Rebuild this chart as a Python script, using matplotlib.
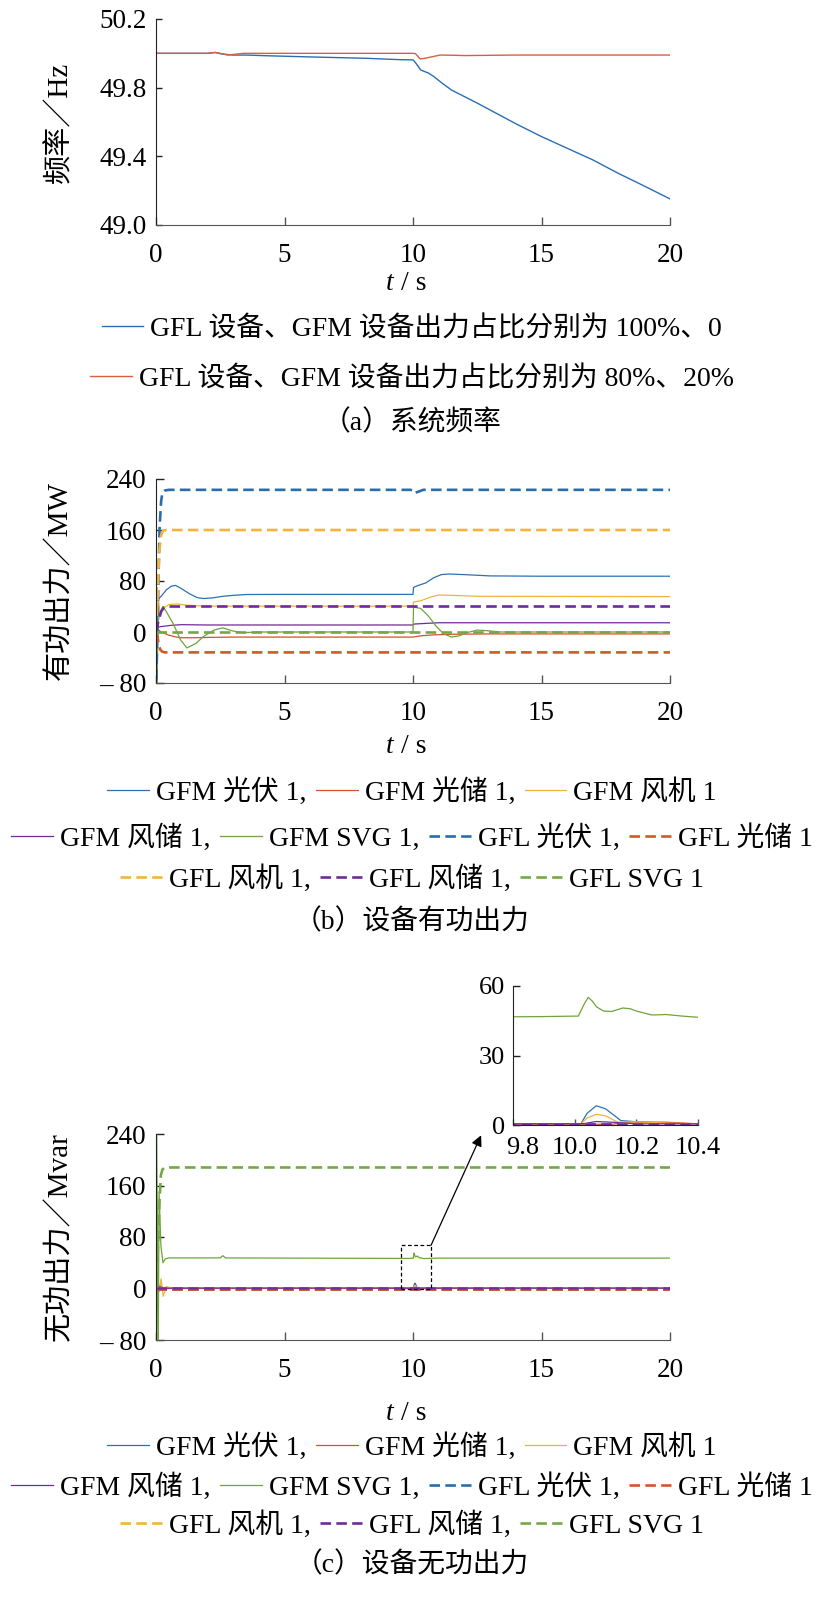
import matplotlib
matplotlib.use('Agg')
import matplotlib.pyplot as plt
from matplotlib.patches import Rectangle
from matplotlib.transforms import ScaledTranslation

plt.rcParams['font.family'] = ['Liberation Serif', 'Noto Sans CJK SC']
plt.rcParams['axes.unicode_minus'] = False

# ---- (a) system frequency ----
freq_t_100 = [0, 2.0, 2.3, 2.6, 3.0, 3.5, 4.3, 6, 8.2, 9.5, 10.0, 10.1, 10.3, 10.6, 10.8, 11.1, 11.5, 12,
              12.5, 13, 14, 15, 16, 17, 18, 19, 20]
freq_100 = [50.0, 50.0, 50.005, 49.995, 49.99, 49.99, 49.986, 49.979, 49.971, 49.963, 49.962, 49.945, 49.903,
            49.885, 49.866, 49.83, 49.786, 49.748, 49.71, 49.67, 49.59, 49.515, 49.447, 49.379, 49.30, 49.227, 49.152]
freq_t_80 = [0, 2.0, 2.3, 2.6, 2.8, 3.4, 4, 10.0, 10.1, 10.28, 10.5, 10.8, 11.06, 11.5, 12, 14, 20]
freq_80 = [50.0, 50.0, 50.005, 49.997, 49.99, 50.0, 50.0, 50.0, 49.998, 49.967, 49.972, 49.982, 49.99,
           49.989, 49.987, 49.99, 49.99]

# ---- (b) active power, MW ----
p_t_gfm_pv = [0, 0.02, 0.05, 0.1, 0.2, 0.4, 0.6, 0.76, 0.95, 1.3, 1.6, 1.85, 2.2, 2.6, 3.0, 3.5, 5, 10.0, 10.02,
              10.2, 10.5, 10.8, 11.1, 11.4, 12, 13, 15, 20]
p_gfm_pv = [0, -120, 20, 52, 56, 66, 72, 73, 69, 60, 54, 52.5, 53.5, 56, 57.5, 58.8, 59, 59, 70, 73, 77, 85,
            90, 91, 90, 88, 87.5, 87.5]
p_t_gfm_ps = [0, 0.05, 0.2, 0.5, 0.8, 1.0, 1.5, 2, 3, 10.0, 10.3, 10.8, 11.5, 13, 20]
p_gfm_ps = [0, 5, 0, -5, -8, -9, -9, -8.5, -8, -8, -6, -4.5, -3.5, -3, -3]
p_t_gfm_wt = [0, 0.05, 0.15, 0.3, 0.5, 0.8, 1.2, 2, 10.0, 10.02, 10.3, 10.7, 11.0, 11.5, 12.5, 20]
p_gfm_wt = [0, 70, 30, 38, 43, 44, 42, 40.5, 40.5, 47, 49, 55, 58, 57.5, 56, 55.5]
p_t_gfm_ws = [0, 0.1, 0.3, 0.6, 1.0, 2, 10.0, 10.05, 10.5, 11.0, 12, 20]
p_gfm_ws = [5, 8, 9, 10.5, 11.5, 11, 11, 12.5, 13.5, 14.5, 14.5, 14.5]
p_t_gfm_svg = [0, 0.03, 0.08, 0.15, 0.27, 0.4, 0.67, 0.95, 1.2, 1.55, 1.85, 2.26, 2.6, 3.0, 3.4, 4.0, 10.0,
               10.02, 10.3, 10.6, 10.9, 11.2, 11.5, 11.8, 12.1, 12.5, 12.9, 13.4, 20]
p_gfm_svg = [0, -120, 15, 30, 40, 32, 13, -12, -25, -18, -7, 3, 6.5, 1.5, -1, 0, 0, 39, 37, 25, 9, -3, -8, -6,
             -1, 3, 2, 0, 0]
p_t_gfl_pv = [0, 0.05, 0.1, 0.14, 0.2, 0.25, 0.35, 0.5, 9.9, 10.0, 10.05, 10.2, 10.4, 20]
p_gfl_pv = [-100, 0, 90, 164, 205, 219, 222, 223, 223, 222, 218, 220, 223, 223]
p_t_gfl_ps = [0, 0.05, 0.1, 0.17, 0.25, 0.35, 20]
p_gfl_ps = [0, -5, -18, -28, -31, -32, -32]
p_t_gfl_wt = [0, 0.04, 0.07, 0.13, 0.2, 0.28, 0.4, 20]
p_gfl_wt = [0, 30, 65, 128, 152, 159, 160, 160]
p_t_gfl_ws = [0, 0.1, 0.2, 0.3, 0.45, 20]
p_gfl_ws = [0, 18, 32, 38, 40, 40]
p_t_gfl_svg = [0, 20]
p_gfl_svg = [0, 0]

# ---- (c) reactive power, Mvar ----
q_t_gfm_pv = [0, 0.03, 0.08, 0.2, 0.4, 9.8, 10.02, 10.04, 10.07, 10.1, 10.15, 10.21, 10.32, 10.4, 11, 20]
q_gfm_pv = [0, -40, 5, 0, 0.5, 0.5, 0.5, 5, 8.3, 7, 1.9, 1.3, 0.7, 0.5, 0.5, 0.5]
q_t_gfm_ps = [0, 0.05, 0.15, 0.3, 9.8, 10.12, 10.18, 10.3, 10.4, 20]
q_gfm_ps = [0, -8, 5, 0, 0.3, 0.3, 1.3, 1.2, 0.5, 0.3]
q_t_gfm_wt = [0, 0.06, 0.12, 0.2, 0.28, 0.4, 0.6, 9.8, 10.02, 10.04, 10.07, 10.1, 10.14, 10.2, 10.3, 10.4, 20]
q_gfm_wt = [0, 25, -5, 15, -12, 3, 0.5, 0.5, 0.5, 3, 4.6, 4, 1.2, 1.4, 0.8, 0.5, 0.5]
q_t_gfm_ws = [0, 0.1, 0.3, 9.8, 10.03, 10.07, 10.12, 10.2, 20]
q_gfm_ws = [0, 3, 0.5, 0.5, 0.6, 1.5, 1.2, 0.5, 0.5]
q_t_gfm_svg = [0, 0.02, 0.05, 0.08, 0.12, 0.19, 0.27, 0.36, 0.5, 0.7, 2.5, 2.6, 2.7, 9.8, 9.9, 10.0, 10.012,
               10.03, 10.044, 10.057, 10.071, 10.093, 10.12, 10.156, 10.18, 10.2, 10.25, 10.28, 10.295,
               10.35, 10.4, 11, 20]
q_gfm_svg = [0, 260, 120, -150, 150, 67, 40, 46, 47.5, 47.5, 47.5, 51, 47.5, 46.7, 46.8, 47, 47, 52, 55.1,
             53.5, 51, 49.2, 49, 50.5, 50.2, 49.2, 47.5, 47.6, 47.7, 47, 46.5, 47.2, 47.2]
q_t_gfl_pv = [0, 20]
q_gfl_pv = [0, 0]
q_t_gfl_ps = [0, 20]
q_gfl_ps = [0, 0]
q_t_gfl_wt = [0, 20]
q_gfl_wt = [0.3, 0.3]
q_t_gfl_ws = [0, 20]
q_gfl_ws = [0.5, 0.5]
q_t_gfl_svg = [0, 0.05, 0.1, 0.14, 0.19, 0.25, 0.36, 20]
q_gfl_svg = [0, 40, 90, 138, 176, 185, 188, 188]

labels = ['GFM 光伏 1,', 'GFM 光储 1,', 'GFM 风机 1', 'GFM 风储 1,', 'GFM SVG 1,',
          'GFL 光伏 1,', 'GFL 光储 1', 'GFL 风机 1,', 'GFL 风储 1,', 'GFL SVG 1']
colors = ['#2e70b5', '#d4512a', '#f0b23e', '#6f2b9a', '#6ea53a',
          '#2a6dab', '#d2582a', '#f1b43c', '#6f2b9a', '#74a846']
freq_labels = ['GFL 设备、GFM 设备出力占比分别为 100%、0', 'GFL 设备、GFM 设备出力占比分别为 80%、20%']

W, H = 824, 1600
fig = plt.figure(figsize=(W / 100, H / 100), dpi=100)


def fx(x):
    return x / W


def fy(y):
    return 1 - y / H


def axes_px(left, top, right, bottom):
    return fig.add_axes([fx(left), fy(bottom), (right - left) / W, (bottom - top) / H])


def style(ax, size=19.5, ylen=5):
    for s in ['top', 'right']:
        ax.spines[s].set_visible(False)
    ax.spines['left'].set_color('#222222')
    ax.spines['bottom'].set_color('#555555')
    ax.tick_params(axis='x', direction='in', length=6, width=1, color='#555555', labelsize=size, pad=13)
    ax.tick_params(axis='y', direction='in', length=ylen, width=1, color='#222222', labelsize=size, pad=7)


FS = 20
DASH = (0, (4, 2))

# (a)
ax_a = axes_px(156, 19, 670, 225)
la1, = ax_a.plot(freq_t_100, freq_100, color='#2b6db3', lw=1.0)
la2, = ax_a.plot(freq_t_80, freq_80, color='#d9603e', lw=1.0)
ax_a.set_xlim(0, 20)
ax_a.set_ylim(49.0, 50.2)
ax_a.set_xticks([0, 5, 10, 15, 20])
ax_a.set_yticks([49.0, 49.4, 49.8, 50.2])
ax_a.set_yticklabels(['49.0', '49.4', '49.8', '50.2'])
style(ax_a, ylen=4)

# (b)
ax_b = axes_px(156, 479, 670, 683)
p_series = [(p_t_gfm_pv, p_gfm_pv), (p_t_gfm_ps, p_gfm_ps), (p_t_gfm_wt, p_gfm_wt), (p_t_gfm_ws, p_gfm_ws),
            (p_t_gfm_svg, p_gfm_svg), (p_t_gfl_pv, p_gfl_pv), (p_t_gfl_ps, p_gfl_ps), (p_t_gfl_wt, p_gfl_wt),
            (p_t_gfl_ws, p_gfl_ws), (p_t_gfl_svg, p_gfl_svg)]
handles = []
for i, (t, v) in enumerate(p_series):
    if i < 5:
        ln, = ax_b.plot(t, v, color=colors[i], lw=0.9, label=labels[i])
    else:
        ln, = ax_b.plot(t, v, color=colors[i], lw=1.9, ls=DASH, label=labels[i])
    handles.append(ln)
ax_b.set_xlim(0, 20)
ax_b.set_ylim(-80, 240)
ax_b.set_xticks([0, 5, 10, 15, 20])
ax_b.set_yticks([-80, 0, 80, 160, 240])
ax_b.set_yticklabels(['– 80', '0', '80', '160', '240'])
style(ax_b, ylen=6)

# (c)
ax_c = axes_px(156, 1134, 670, 1340)
ax_in = axes_px(513, 986, 698, 1125)
q_series = [(q_t_gfm_pv, q_gfm_pv), (q_t_gfm_ps, q_gfm_ps), (q_t_gfm_wt, q_gfm_wt), (q_t_gfm_ws, q_gfm_ws),
            (q_t_gfm_svg, q_gfm_svg), (q_t_gfl_pv, q_gfl_pv), (q_t_gfl_ps, q_gfl_ps), (q_t_gfl_wt, q_gfl_wt),
            (q_t_gfl_ws, q_gfl_ws), (q_t_gfl_svg, q_gfl_svg)]
for ax in (ax_c, ax_in):
    for i, (t, v) in enumerate(q_series):
        if i < 5:
            ax.plot(t, v, color=colors[i], lw=0.9)
        else:
            ax.plot(t, v, color=colors[i], lw=1.9, ls=DASH)
ax_c.set_xlim(0, 20)
ax_c.set_ylim(-80, 240)
ax_c.set_xticks([0, 5, 10, 15, 20])
ax_c.set_yticks([-80, 0, 80, 160, 240])
ax_c.set_yticklabels(['– 80', '0', '80', '160', '240'])
style(ax_c, ylen=6)

ax_in.set_xlim(9.8, 10.4)
ax_in.set_ylim(0, 60)
ax_in.set_xticks([9.8, 10.0, 10.2, 10.4])
ax_in.set_xticklabels(['9.8', '10.0', '10.2', '10.4'])
ax_in.set_yticks([0, 30, 60])
style(ax_in, size=19, ylen=5)
ax_in.spines['bottom'].set_color('#222222')
ax_in.tick_params(axis='x', length=4, pad=9)
ax_in.tick_params(axis='y', pad=6)
lab98 = ax_in.get_xticklabels()[0]
lab98.set_ha('left')
lab98.set_transform(lab98.get_transform() + ScaledTranslation(-5 / 72, 0, fig.dpi_scale_trans))

ax_c.add_patch(Rectangle((9.55, -1.5), 1.15, 68.5, fill=False, ec='black', lw=0.9, ls=(0, (3, 2)), zorder=6))
ax_c.annotate('', xy=(12.65, 238), xytext=(10.7, 67),
              arrowprops=dict(arrowstyle='-|>', color='black', lw=0.9, shrinkA=0, shrinkB=0,
                              mutation_scale=16),
              annotation_clip=False)

# axis labels: italic t, then " / s"
for y in (284, 747, 1413):
    fig.text(fx(394), fy(y), 't', style='italic', ha='right', va='center', fontsize=FS)
    fig.text(fx(394), fy(y), ' / s', ha='left', va='center', fontsize=FS)
YFS = 21
fig.text(fx(60), fy(122), '频率／Hz', rotation=90, ha='center', va='center', fontsize=YFS)
fig.text(fx(60), fy(581), '有功出力／MW', rotation=90, ha='center', va='center', fontsize=YFS)
fig.text(fx(60), fy(1237), '无功出力／Mvar', rotation=90, ha='center', va='center', fontsize=YFS)

# legends
leg_kw = dict(loc='center', frameon=False, fontsize=FS, handlelength=1.5, handletextpad=0.25,
              columnspacing=0.35, borderpad=0, borderaxespad=0)
for h, lab, y in zip([la1, la2], freq_labels, [329, 379]):
    fig.legend([h], [lab], bbox_to_anchor=(0.5, fy(y)), **leg_kw)

rows = [[0, 1, 2], [3, 4, 5, 6], [7, 8, 9]]
for ys in ([792, 838, 879], [1447, 1487, 1525]):
    for idx, y in zip(rows, ys):
        fig.legend([handles[i] for i in idx], [labels[i] for i in idx], ncol=len(idx),
                   bbox_to_anchor=(0.5, fy(y)), **leg_kw)

fig.text(0.5, fy(423), '（a）系统频率', ha='center', va='center', fontsize=FS)
fig.text(0.5, fy(922), '（b）设备有功出力', ha='center', va='center', fontsize=FS)
fig.text(0.5, fy(1565), '（c）设备无功出力', ha='center', va='center', fontsize=FS)

fig.savefig('out.png', dpi=100)
